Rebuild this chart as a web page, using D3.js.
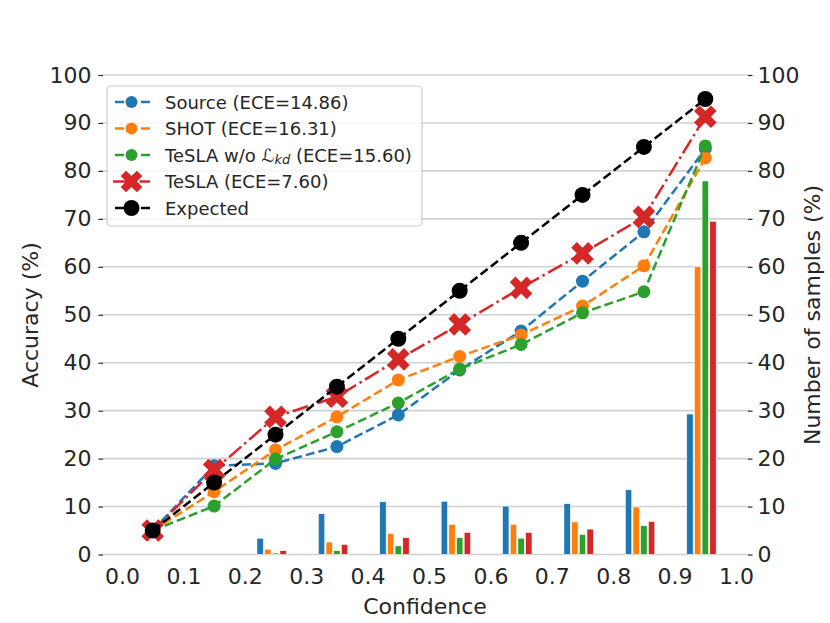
<!DOCTYPE html>
<html><head><meta charset="utf-8">
<script src="https://cdn.jsdelivr.net/npm/d3@7"></script>
<style>
body{margin:0;background:#fff}
text{font-family:"DejaVu Sans",sans-serif;fill:#262626}
</style>
</head><body>
<svg id="c" width="830" height="623"></svg>
<script>
// ---- data ----
const bins = [0.05,0.15,0.25,0.35,0.45,0.55,0.65,0.75,0.85,0.95];
const xTicks = [0,0.1,0.2,0.3,0.4,0.5,0.6,0.7,0.8,0.9,1.0];
const yTicks = [0,10,20,30,40,50,60,70,80,90,100];
const sourceAcc   = [5,18.5,19.0,22.5,29.1,38.5,46.6,57.0,67.3,84.6];
const shotAcc     = [5,13.1,21.8,28.7,36.4,41.3,45.8,51.8,60.2,82.7];
const noKdAcc     = [5,10.1,19.9,25.6,31.6,38.7,43.8,50.4,54.8,85.2];
const teslaAcc    = [5,17.6,28.7,32.9,40.7,48.0,55.6,62.8,70.4,91.3];
const expectedAcc = [5,15,25,35,45,55,65,75,85,95];
const sourceCnt = [0,0,3.4,8.5,11.0,11.1,10.1,10.6,13.5,29.3];
const shotCnt   = [0,0,1.1,2.6,4.4,6.3,6.3,6.8,9.9,60.0];
const noKdCnt   = [0,0,0.3,0.8,1.8,3.5,3.4,4.2,6.0,77.9];
const teslaCnt  = [0,0,0.8,2.1,3.5,4.6,4.6,5.3,6.9,69.5];
const legendLabels = ["Source (ECE=14.86)","SHOT (ECE=16.31)","TeSLA w/o LKD (ECE=15.60)","TeSLA (ECE=7.60)","Expected"];

// ---- layout ----
const svg = d3.select("#c");
const L = 103, R = 748, T = 75, B = 554.5;
const x = d3.scaleLinear().domain([0,1]).range([122,736]);
const y = d3.scaleLinear().domain([0,100]).range([B,T]);
const y2 = d3.scaleLinear().domain([0,100]).range([B,T]);
const colors = {blue:"#1f77b4",orange:"#ff7f0e",green:"#2ca02c",red:"#d62728",black:"#000000"};

// gridlines
svg.append("g").selectAll("line").data(yTicks).join("line")
  .attr("x1",L).attr("x2",R).attr("y1",d=>y(d)).attr("y2",d=>y(d))
  .attr("stroke","#d0d0d0").attr("stroke-width",1.6);

// axes
const fs = 22;
const ax = svg.append("g").attr("transform",`translate(${L},0)`)
  .call(d3.axisLeft(y).tickValues(yTicks).tickSize(4.5).tickPadding(7).tickFormat(d3.format("d")));
const axR = svg.append("g").attr("transform",`translate(${R},0)`)
  .call(d3.axisRight(y2).tickValues(yTicks).tickSize(4.5).tickPadding(5).tickFormat(d3.format("d")));
const axB = svg.append("g").attr("transform",`translate(0,${B})`)
  .call(d3.axisBottom(x).tickValues(xTicks).tickSize(0).tickPadding(14).tickFormat(d3.format(".1f")));
[ax,axR,axB].forEach(g=>{
  g.select(".domain").remove();
  g.selectAll("line").attr("stroke","#262626").attr("stroke-width",1.2);
  g.selectAll("text").attr("font-size",fs).attr("font-family","DejaVu Sans").attr("fill","#262626");
});

// axis labels
svg.append("text").attr("transform","translate(30,315) rotate(-90)")
  .attr("text-anchor","middle").attr("dominant-baseline","central").attr("font-size",fs).text("Accuracy (%)");
svg.append("text").attr("transform","translate(812,315) rotate(-90)")
  .attr("text-anchor","middle").attr("dominant-baseline","central").attr("font-size",fs).text("Number of samples (%)");
svg.append("text").attr("x",425).attr("y",614).attr("text-anchor","middle").attr("font-size",fs).text("Confidence");

// X marker path (matplotlib 'X')
function xPath(s){
  const pts=[[-1,-3],[1,-3],[1,-1],[3,-1],[3,1],[1,1],[1,3],[-1,3],[-1,1],[-3,1],[-3,-1],[-1,-1]]
    .map(([a,b])=>{const px=a/6*s, py=b/6*s; return [((px-py)/Math.SQRT2).toFixed(2),((px+py)/Math.SQRT2).toFixed(2)];});
  return "M"+pts.map(p=>p.join(",")).join("L")+"Z";
}

// lines
const series = [
  {vals:sourceAcc,color:colors.blue,dash:"9,4",marker:"circle",r:6.5},
  {vals:shotAcc,color:colors.orange,dash:"9,4",marker:"circle",r:6.5},
  {vals:noKdAcc,color:colors.green,dash:"9,4",marker:"circle",r:6.5},
  {vals:teslaAcc,color:colors.red,dash:"16,4,2.5,4",marker:"x",r:24},
  {vals:expectedAcc,color:colors.black,dash:"9,4",marker:"circle",r:8}
];
const line = d3.line().x(d=>x(d[0])).y(d=>y(d[1]));
series.forEach(s=>{
  const pts = bins.map((b,i)=>[b,s.vals[i]]);
  const g = svg.append("g");
  g.append("path").attr("d",line(pts)).attr("fill","none").attr("stroke",s.color)
    .attr("stroke-width",2.5).attr("stroke-dasharray",s.dash);
  if(s.marker==="circle"){
    g.selectAll("circle").data(pts).join("circle").attr("cx",d=>x(d[0])).attr("cy",d=>y(d[1]))
      .attr("r",s.r).attr("fill",s.color);
  } else {
    g.selectAll("path.m").data(pts).join("path").attr("class","m")
      .attr("transform",d=>`translate(${x(d[0])},${y(d[1])})`).attr("d",xPath(s.r)).attr("fill",s.color);
  }
});

// bars (right axis)
const barSets = [
  {vals:sourceCnt,color:colors.blue,off:-0.025},
  {vals:shotCnt,color:colors.orange,off:-0.0125},
  {vals:noKdCnt,color:colors.green,off:0},
  {vals:teslaCnt,color:colors.red,off:0.0125}
];
const bw = 0.0105;
barSets.forEach(bs=>{
  svg.append("g").selectAll("rect").data(bins.map((b,i)=>[b,bs.vals[i]]).filter(d=>d[1]>0)).join("rect")
    .attr("x",d=>x(d[0]+bs.off-bw/2)).attr("width",x(bw)-x(0))
    .attr("y",d=>y2(d[1])).attr("height",d=>y2(0)-y2(d[1]))
    .attr("fill",bs.color).attr("stroke","#ffffff").attr("stroke-width",0.6);
});

// legend
const lg = svg.append("g");
lg.append("rect").attr("x",107).attr("y",86).attr("width",315).attr("height",140).attr("rx",4)
  .attr("fill","#ffffff").attr("fill-opacity",0.8).attr("stroke","#cccccc").attr("stroke-width",1.2);
const rowY = [102,128.5,155,181.5,208];
series.forEach((s,i)=>{
  const cy = rowY[i];
  lg.append("line").attr("x1",113).attr("x2",150).attr("y1",cy).attr("y2",cy)
    .attr("stroke",s.color).attr("stroke-width",2.5).attr("stroke-dasharray",i===3?"16,4,2.5,4":"9,4")
    .attr("stroke-dashoffset",i===3?0:-2);
  if(s.marker==="circle"){
    lg.append("circle").attr("cx",131.5).attr("cy",cy).attr("r",i===4?8:6).attr("fill",s.color);
  } else {
    lg.append("path").attr("transform",`translate(131.5,${cy})`).attr("d",xPath(23)).attr("fill",s.color);
  }
  const t = lg.append("text").attr("x",165).attr("y",cy).attr("dominant-baseline","central").attr("font-size",18);
  if(i===2){
    t.append("tspan").text("TeSLA w/o ");
    t.append("tspan").attr("font-style","italic").text("\u2112");
    t.append("tspan").attr("font-style","italic").attr("font-size",13).attr("dy",4).text("kd");
    t.append("tspan").attr("dy",-4).text(" (ECE=15.60)");
  } else {
    t.text(legendLabels[i]);
  }
});
</script>
</body></html>
